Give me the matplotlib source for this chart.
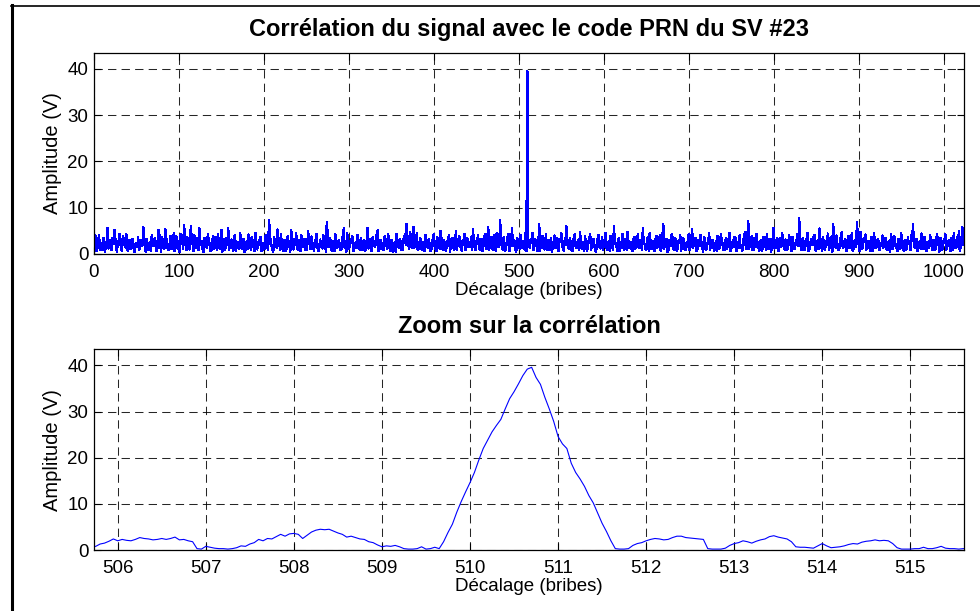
import numpy as np
import matplotlib
matplotlib.use("Agg")
import matplotlib.pyplot as plt
from matplotlib.lines import Line2D

plt.rcParams["font.family"] = ["Liberation Sans", "DejaVu Sans"]
plt.rcParams["path.simplify"] = False

# Corrélation complète, une valeur par bribe (0 .. 1023)
corr_decalage = np.arange(0, 1024)
# bribes paires : 0, 2, ..., 1022
corr_pair = [
    5.5, 3.8, 1.2, 4.1, 2.3, 0.8, 3.2, 1.9, 5.7, 2.6, 0.9, 3.5, 5.2, 1.4, 2.8, 4.3,
    1.1, 3.9, 2.2, 4.4, 0.7, 3.1, 1.8, 2.9, 0.5, 2.4, 3.6, 1.3, 2.7, 5.8, 1.6, 3.3,
    0.9, 2.5, 4.0, 1.7, 3.4, 0.6, 5.2, 2.1, 3.7, 1.2, 5.3, 2.8, 0.8, 3.9, 2.3, 4.5,
    1.5, 3.0, 0.7, 4.2, 2.6, 6.2, 1.9, 3.6, 1.0, 6.0, 2.4, 4.1, 1.3, 3.2, 5.5, 2.0,
    0.8, 3.5, 1.6, 4.3, 2.2, 0.6, 3.8, 1.4, 2.9, 4.4, 1.1, 5.2, 2.7, 0.9, 3.4, 5.5,
    2.0, 3.1, 0.7, 4.0, 1.8, 2.6, 4.6, 1.2, 3.3, 0.5, 2.8, 4.2, 1.5, 3.6, 2.1, 4.5,
    1.0, 2.4, 3.7, 0.6, 2.2, 4.0, 1.7, 7.4, 2.5, 0.8, 3.6, 1.9, 5.3, 2.8, 4.2, 1.1,
    3.0, 0.7, 3.9, 2.0, 5.1, 1.4, 3.3, 4.5, 0.9, 2.6, 4.1, 1.6, 3.2, 0.8, 5.0, 2.3,
    3.8, 1.2, 2.9, 4.4, 0.7, 3.1, 1.9, 4.0, 2.4, 6.9, 1.5, 3.5, 0.6, 2.7, 4.3, 1.3,
    3.0, 0.9, 3.7, 5.5, 2.2, 4.6, 1.0, 2.8, 3.9, 0.7, 2.5, 4.1, 1.6, 3.4, 0.8, 2.9,
    1.4, 5.7, 2.3, 0.6, 3.6, 1.8, 4.0, 5.2, 1.1, 2.7, 0.9, 3.8, 2.0, 4.3, 1.3, 3.1,
    0.5, 2.6, 4.4, 1.7, 3.3, 0.8, 2.9, 4.2, 6.5, 2.1, 4.8, 1.4, 5.9, 3.0, 4.6, 1.2,
    3.5, 0.9, 2.4, 4.1, 1.5, 3.2, 0.6, 2.8, 4.3, 1.1, 3.6, 2.0, 5.0, 1.3, 3.0, 0.7,
    2.5, 4.0, 1.8, 3.4, 0.9, 5.0, 2.2, 3.8, 1.2, 2.9, 4.4, 0.8, 3.1, 1.6, 3.7, 5.3,
    1.4, 2.7, 4.1, 0.9, 3.3, 1.9, 4.2, 1.1, 5.8, 2.4, 3.7, 0.8, 2.9, 4.5, 1.5, 7.3,
    2.2, 3.6, 0.7, 3.0, 4.3, 1.6, 5.5, 2.5, 0.9, 3.4, 2.0, 4.1, 1.3, 2.4, 4.5, 39.6,
    2.0, 3.1, 4.6, 1.2, 2.8, 0.7, 6.5, 2.3, 3.9, 1.0, 4.3, 2.6, 0.8, 3.5, 1.7, 4.0,
    2.2, 0.6, 3.2, 4.5, 1.4, 2.9, 6.0, 1.8, 3.4, 0.9, 2.6, 4.2, 1.3, 3.0, 4.7, 1.1,
    2.5, 3.8, 0.7, 2.9, 4.4, 1.6, 3.3, 0.8, 2.4, 4.1, 1.2, 3.6, 2.0, 4.6, 0.9, 2.7,
    3.9, 1.5, 6.0, 2.3, 0.6, 3.5, 1.9, 4.3, 1.0, 3.1, 4.8, 1.4, 2.6, 0.7, 3.7, 2.1,
    4.2, 1.3, 3.0, 5.5, 2.2, 0.8, 3.6, 4.5, 1.1, 2.8, 0.6, 3.9, 2.4, 4.1, 1.5, 6.5,
    2.0, 3.3, 0.9, 2.6, 4.4, 1.2, 3.5, 0.7, 2.9, 4.0, 1.7, 3.2, 0.8, 2.5, 4.3, 1.4,
    5.3, 2.1, 3.4, 0.7, 2.8, 4.1, 1.3, 3.6, 0.9, 2.4, 4.5, 1.6, 3.0, 0.6, 2.7, 3.9,
    1.2, 4.2, 2.3, 0.8, 3.5, 1.8, 4.6, 1.0, 2.9, 3.7, 0.7, 2.5, 4.0, 1.5, 3.2, 4.7,
    1.1, 7.2, 2.4, 3.8, 0.8, 3.0, 4.4, 1.4, 2.7, 0.6, 3.6, 1.9, 4.2, 1.0, 3.3, 2.2,
    5.7, 1.3, 3.5, 0.7, 2.8, 4.5, 1.6, 3.1, 0.9, 4.0, 2.3, 3.7, 1.2, 2.6, 4.3, 7.7,
    1.5, 3.4, 0.8, 2.9, 4.6, 1.1, 3.2, 2.0, 4.1, 0.7, 3.0, 5.5, 1.8, 3.6, 0.9, 2.5,
    4.4, 1.3, 3.8, 6.5, 2.1, 4.0, 0.8, 2.7, 4.7, 1.4, 3.3, 0.6, 3.9, 2.2, 4.5, 1.2,
    3.1, 6.9, 2.0, 4.8, 1.0, 3.5, 4.2, 1.6, 2.8, 0.7, 3.7, 4.6, 1.3, 3.0, 0.9, 2.4,
    4.0, 1.5, 3.4, 0.8, 2.6, 4.3, 1.1, 3.8, 2.1, 0.6, 3.2, 4.5, 1.7, 2.9, 0.9, 3.6,
    2.3, 4.1, 6.5, 1.4, 3.3, 0.8, 2.7, 4.4, 1.2, 3.6, 0.7, 2.5, 4.0, 1.8, 3.1, 0.9,
    4.2, 2.2, 3.5, 1.0, 2.8, 4.3, 1.5, 3.0, 0.6, 2.6, 4.5, 1.3, 3.7, 4.9, 1.6, 5.8,
]
# bribes impaires : 1, 3, ..., 1023
corr_impair = [
    2.1, 0.6, 2.8, 0.9, 1.7, 3.4, 0.5, 2.6, 1.2, 3.0, 0.8, 2.2, 3.6, 0.4, 1.9, 2.7,
    0.7, 3.1, 1.4, 0.9, 2.5, 1.1, 3.3, 0.6, 2.0, 1.5, 0.8, 2.9, 1.8, 3.7, 0.5, 2.3,
    1.6, 0.7, 2.4, 3.2, 0.9, 1.8, 4.0, 0.5, 2.6, 1.3, 3.5, 0.8, 2.1, 1.0, 2.9, 0.6,
    3.8, 1.7, 0.4, 2.3, 1.2, 4.2, 0.9, 2.7, 1.5, 3.0, 0.6, 2.0, 3.4, 0.8, 1.9, 2.8,
    0.5, 2.2, 1.4, 3.1, 0.7, 2.5, 1.1, 3.6, 0.9, 1.8, 2.7, 0.4, 3.3, 1.6, 2.0, 0.8,
    2.9, 1.3, 3.9, 0.6, 2.4, 1.0, 3.2, 1.7, 0.5, 2.6, 1.2, 3.5, 0.9, 2.1, 0.7, 2.8,
    1.5, 3.0, 0.6, 2.3, 1.1, 3.7, 0.8, 4.4, 1.9, 0.5, 2.7, 1.4, 3.4, 0.9, 2.2, 0.7,
    3.1, 1.6, 2.5, 0.4, 3.8, 1.0, 2.0, 1.3, 2.9, 0.6, 2.4, 3.3, 0.8, 1.7, 2.6, 1.1,
    2.4, 0.7, 3.2, 1.5, 0.9, 2.6, 1.2, 3.5, 0.5, 4.3, 2.0, 1.0, 2.8, 0.6, 3.1, 1.7,
    2.2, 0.8, 3.6, 1.4, 0.5, 2.5, 1.9, 3.0, 0.7, 2.1, 1.3, 3.4, 0.9, 2.7, 1.6, 0.6,
    2.9, 1.2, 3.3, 0.8, 2.0, 1.5, 2.6, 0.6, 3.0, 1.8, 0.9, 2.4, 1.1, 3.5, 0.7, 2.2,
    1.6, 0.5, 3.1, 1.3, 2.5, 0.8, 3.7, 1.9, 3.2, 1.0, 3.4, 2.1, 1.4, 2.8, 0.9, 2.3,
    1.1, 2.6, 0.7, 3.0, 1.4, 2.2, 0.9, 3.4, 1.7, 0.6, 2.5, 1.2, 3.1, 0.8, 2.0, 1.5,
    3.6, 0.5, 2.7, 1.3, 2.3, 0.9, 3.2, 1.8, 0.7, 2.4, 1.0, 3.5, 1.6, 2.1, 0.8, 3.0,
    0.9, 2.5, 1.4, 3.2, 0.6, 2.8, 1.7, 3.5, 0.8, 2.2, 1.1, 4.0, 0.7, 2.6, 1.5, 3.3,
    0.9, 2.0, 1.3, 3.8, 0.6, 2.4, 1.8, 2.9, 0.5, 3.1, 1.2, 2.2, 2.8, 0.9, 0.7, 2.6,
    1.4, 2.7, 0.8, 3.3, 1.6, 2.0, 0.6, 3.6, 1.2, 2.5, 0.9, 3.0, 1.7, 0.5, 2.3, 1.3,
    3.4, 0.8, 2.8, 1.5, 0.7, 3.1, 2.0, 1.1, 2.6, 0.6, 3.7, 1.4, 2.2, 0.9, 2.9, 1.6,
    0.7, 2.4, 1.2, 3.2, 0.9, 2.6, 1.8, 0.5, 3.5, 1.4, 2.1, 0.8, 3.0, 1.6, 2.5, 0.6,
    3.8, 1.0, 2.3, 1.5, 2.9, 0.7, 2.0, 1.3, 3.3, 0.9, 2.7, 1.8, 0.6, 3.1, 1.1, 2.4,
    1.5, 3.0, 0.8, 2.3, 1.2, 3.4, 0.6, 2.7, 1.9, 0.9, 3.2, 1.4, 2.1, 0.7, 3.6, 1.1,
    2.5, 0.5, 2.9, 1.7, 3.3, 0.8, 2.2, 1.3, 2.8, 0.6, 3.5, 1.0, 2.4, 1.6, 0.9, 3.1,
    1.3, 2.6, 0.7, 3.0, 1.8, 2.2, 0.5, 3.4, 1.2, 2.7, 0.9, 3.1, 1.5, 2.0, 0.6, 3.7,
    1.4, 2.4, 0.8, 2.9, 1.1, 3.3, 0.7, 2.1, 1.6, 3.5, 0.9, 2.5, 1.3, 0.6, 2.8, 1.9,
    3.2, 1.0, 2.4, 0.8, 3.5, 1.5, 2.1, 0.6, 2.9, 1.3, 3.7, 0.9, 2.3, 1.8, 0.5, 3.1,
    1.2, 2.6, 0.7, 3.4, 1.6, 2.0, 0.9, 2.8, 1.4, 3.6, 0.6, 2.2, 1.1, 3.0, 1.7, 2.5,
    0.8, 2.7, 1.4, 3.3, 0.6, 2.1, 1.9, 3.8, 0.9, 2.5, 1.2, 3.0, 0.7, 2.3, 1.6, 3.5,
    1.0, 2.8, 0.5, 3.2, 1.4, 2.0, 0.8, 3.6, 1.7, 2.4, 0.9, 3.1, 1.3, 2.6, 0.6, 2.9,
    1.5, 3.4, 0.7, 2.2, 1.8, 3.0, 0.9, 2.6, 1.2, 3.7, 0.6, 2.4, 1.6, 3.2, 0.8, 2.0,
    1.4, 3.5, 1.0, 2.7, 0.5, 3.1, 1.7, 2.3, 0.9, 3.3, 1.2, 2.5, 0.7, 3.0, 1.9, 2.2,
    0.8, 2.9, 1.5, 3.3, 0.6, 2.4, 1.1, 3.6, 1.8, 0.7, 2.6, 1.3, 3.1, 0.9, 2.2, 1.6,
    3.4, 0.5, 2.8, 1.2, 3.0, 0.8, 2.5, 1.7, 3.5, 0.9, 2.1, 1.4, 2.7, 0.6, 3.2, 2.0,
]
corr_amplitude = np.empty(1024)
corr_amplitude[0::2] = corr_pair
corr_amplitude[1::2] = corr_impair

# Zoom autour du pic : pas de 0.05 bribe (505.70 .. 515.65)
zoom_decalage = np.round(np.arange(505.70, 515.66, 0.05), 2)
zoom_amplitude = [
    0.6, 0.8, 1.3, 1.5, 1.9, 2.4,
    2.0, 2.3, 2.1, 2.0, 2.3, 2.7, 2.5, 2.4, 2.2, 2.3,
    2.5, 2.3, 2.5, 2.8, 2.2, 2.3, 2.0, 1.8, 0.3, 0.2,
    0.8, 0.6, 0.4, 0.3, 0.3, 0.2, 0.3, 0.5, 0.9, 0.8,
    1.3, 1.6, 2.3, 2.0, 2.5, 2.4, 2.9, 3.4, 3.0, 3.5,
    3.6, 3.4, 2.5, 3.2, 3.9, 4.3, 4.5, 4.4, 4.5, 4.1,
    3.7, 3.4, 2.8, 3.0, 2.7, 2.4, 2.3, 1.8, 1.6, 1.1,
    0.7, 0.9, 0.8, 1.0, 0.7, 0.3, 0.2, 0.2, 0.3, 0.7,
    0.2, 0.3, 0.6, 0.3, 1.8, 3.8, 5.6, 8.2, 10.5, 12.6,
    14.6, 16.8, 19.5, 22.0, 23.8, 25.6, 27.0, 28.3, 30.6, 32.8,
    34.3, 36.0, 37.8, 39.2, 39.6, 37.4, 35.9, 33.1, 30.6, 27.9,
    24.6, 23.0, 22.0, 18.8, 16.8, 15.4, 13.8, 11.8, 10.2, 8.0,
    5.8, 4.0, 2.0, 0.3, 0.2, 0.2, 0.3, 1.0, 1.4, 1.6,
    2.0, 2.3, 2.5, 2.4, 2.2, 2.3, 2.7, 3.0, 3.0, 2.7,
    2.6, 2.5, 2.4, 2.3, 0.3, 0.2, 0.2, 0.2, 0.4, 1.0,
    1.4, 1.6, 2.0, 1.8, 1.5, 1.9, 2.2, 2.4, 2.9, 3.1,
    2.8, 2.6, 2.4, 1.8, 0.7, 0.6, 0.6, 0.5, 0.4, 0.9,
    1.4, 0.9, 0.5, 0.6, 0.7, 0.9, 1.2, 1.4, 1.3, 1.7,
    1.9, 2.0, 2.2, 2.0, 2.1, 2.0, 1.4, 0.5, 0.2, 0.2,
    0.2, 0.3, 0.3, 0.6, 0.3, 0.3, 0.5, 0.8, 0.4, 0.3,
    0.3, 0.2, 0.3, 0.3,
]

fig = plt.figure(figsize=(9.8, 6.11), dpi=100)
ax1 = fig.add_axes([0.0959, 0.5843, 0.8878, 0.3294])
ax2 = fig.add_axes([0.0959, 0.0998, 0.8878, 0.3285])


def style_axes(ax):
    ax.set_ylim(0, 43.5)
    ax.set_yticks([0, 10, 20, 30, 40])
    ax.grid(True, color="black", linestyle=(0, (8, 5)), linewidth=0.75, alpha=0.85)
    ax.set_axisbelow(True)
    ax.tick_params(direction="in", top=True, right=True, length=5, width=0.8,
                   labelsize=13.5, pad=7)
    ax.tick_params(axis="y", pad=4)
    for s in ax.spines.values():
        s.set_linewidth(0.9)
    ax.set_ylabel("Amplitude (V)", fontsize=14.5, labelpad=4)
    ax.set_xlabel("Décalage (bribes)", fontsize=13.5, labelpad=1)


ax1.plot(corr_decalage, corr_amplitude, color="#0000ff", linewidth=1.0,
         antialiased=False)
ax1.set_xlim(0, 1024)
ax1.set_xticks(np.arange(0, 1001, 100))
style_axes(ax1)
ax1.set_title("Corrélation du signal avec le code PRN du SV #23",
              fontsize=17, fontweight="bold", pad=12)

ax2.plot(zoom_decalage, zoom_amplitude, color="#0000ff", linewidth=0.8)
ax2.set_xlim(505.73, 515.61)
ax2.set_xticks(np.arange(506, 516))
style_axes(ax2)
ax2.set_title("Zoom sur la corrélation", fontsize=17, fontweight="bold", pad=12)

# cadre de la figure (bords gauche et haut)
fig.add_artist(Line2D([12 / 980, 12 / 980], [0, 1 - 5 / 611], color="black",
                      linewidth=2.2, transform=fig.transFigure))
fig.add_artist(Line2D([11 / 980, 1], [1 - 5.5 / 611, 1 - 5.5 / 611], color="black",
                      linewidth=1.2, transform=fig.transFigure))

fig.savefig("out.png", dpi=100)
